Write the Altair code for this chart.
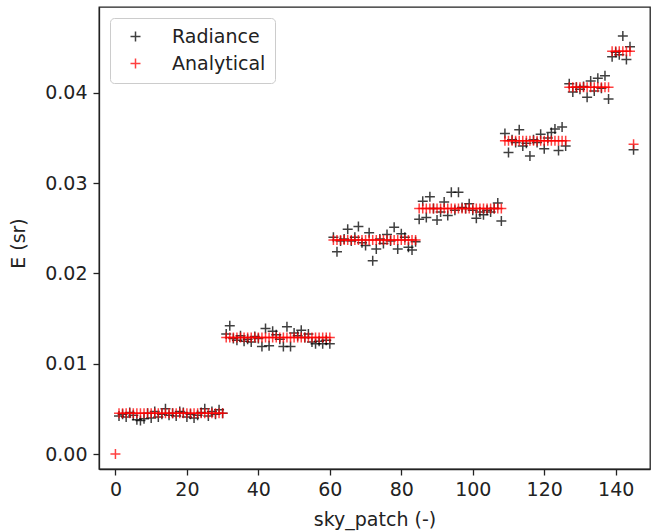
import altair as alt
import pandas as pd

# ---- data ----
patch = list(range(146))

radiance = [
    None,  # patch 0: only the analytical value is drawn
    # band 1 (patches 1-30)
    0.0042, 0.0044, 0.0041, 0.0046, 0.0043, 0.0038, 0.0037, 0.0039, 0.0045, 0.0040,
    0.0047, 0.0041, 0.0044, 0.0050, 0.0043, 0.0045, 0.0042, 0.0047, 0.0046, 0.0041,
    0.0044, 0.0040, 0.0043, 0.0046, 0.0050, 0.0042, 0.0047, 0.0044, 0.0049, 0.0045,
    # band 2 (31-60)
    0.0133, 0.0142, 0.0128, 0.0126, 0.0131, 0.0125, 0.0127, 0.0124, 0.0130, 0.0128,
    0.0119, 0.0139, 0.0120, 0.0136, 0.0132, 0.0127, 0.0119, 0.0141, 0.0119, 0.0134,
    0.0131, 0.0137, 0.0129, 0.0133, 0.0124, 0.0122, 0.0125, 0.0122, 0.0126, 0.0122,
    # band 3 (61-84)
    0.0240, 0.0224, 0.0236, 0.0238, 0.0249, 0.0236, 0.0240, 0.0252, 0.0234, 0.0231, 0.0245, 0.0214,
    0.0227, 0.0238, 0.0233, 0.0243, 0.0236, 0.0251, 0.0227, 0.0244, 0.0240, 0.0229, 0.0226, 0.0235,
    # band 4 (85-108)
    0.0260, 0.0280, 0.0262, 0.0285, 0.0272, 0.0259, 0.0268, 0.0279, 0.0264, 0.0290, 0.0270, 0.0290,
    0.0273, 0.0272, 0.0277, 0.0270, 0.0261, 0.0268, 0.0265, 0.0270, 0.0268, 0.0272, 0.0278, 0.0258,
    # band 5 (109-126)
    0.0355, 0.0334, 0.0348, 0.0345, 0.0359, 0.0341, 0.0344, 0.0330, 0.0348,
    0.0345, 0.0354, 0.0338, 0.0350, 0.0356, 0.0360, 0.0336, 0.0362, 0.0341,
    # band 6 (127-138)
    0.0410, 0.0401, 0.0406, 0.0404, 0.0407, 0.0395, 0.0413, 0.0402, 0.0416, 0.0405, 0.0419, 0.0393,
    # band 7 (139-144)
    0.0440, 0.0445, 0.0442, 0.0463, 0.0437, 0.0451,
    # zenith (145)
    0.0337,
]

analytical = (
    [0.0]
    + [0.0045] * 30
    + [0.0129] * 30
    + [0.0237] * 24
    + [0.0272] * 24
    + [0.0347] * 18
    + [0.0406] * 12
    + [0.0446] * 6
    + [0.0343]
)

series_names = ["Radiance", "Analytical"]
series_colors = ["black", "red"]
x_ticks = [0, 20, 40, 60, 80, 100, 120, 140]
y_ticks = [0.0, 0.01, 0.02, 0.03, 0.04]

df = pd.concat(
    [
        pd.DataFrame({"patch": patch, "E": radiance, "series": series_names[0]}),
        pd.DataFrame({"patch": patch, "E": analytical, "series": series_names[1]}),
    ],
    ignore_index=True,
).dropna()

CROSS = "M-1,0L1,0M0,-1L0,1"
FONT = "DejaVu Sans"
INK = "#222222"

chart = (
    alt.Chart(df)
    .mark_point(shape=CROSS, size=100, filled=False, strokeWidth=1.5, opacity=0.75)
    .encode(
        x=alt.X(
            "patch:Q",
            scale=alt.Scale(domain=[-4.6, 149.6], nice=False, zero=False),
            axis=alt.Axis(
                values=x_ticks,
                title="sky_patch (-)",
                grid=False,
                labelPadding=5,
                titleY=56,
                titleBaseline="alphabetic",
            ),
        ),
        y=alt.Y(
            "E:Q",
            scale=alt.Scale(domain=[-0.00166, 0.0495], nice=False, zero=False),
            axis=alt.Axis(
                values=y_ticks,
                format=".2f",
                title="E (sr)",
                grid=False,
                labelPadding=6,
                titleX=-81,
                titleY=236,
                titleAngle=270,
                titleAlign="center",
                titleBaseline="middle",
            ),
        ),
        color=alt.Color(
            "series:N",
            scale=alt.Scale(domain=series_names, range=series_colors),
            legend=alt.Legend(
                title=None,
                orient="none",
                legendX=11,
                legendY=11,
            ),
        ),
    )
    .properties(
        width=551,
        height=462,
        padding={"left": 99, "top": 7, "right": 1, "bottom": 63},
        autosize=alt.AutoSizeParams(type="none"),
    )
    .configure_view(stroke=INK, strokeWidth=1.3)
    .configure_axis(
        domainColor=INK,
        domainWidth=1.3,
        tickColor=INK,
        tickWidth=1.3,
        tickSize=6,
        labelFont=FONT,
        labelFontSize=19,
        labelColor=INK,
        titleFont=FONT,
        titleFontSize=19,
        titleFontWeight="normal",
        titleColor=INK,
    )
    .configure_legend(
        labelFont=FONT,
        labelFontSize=19,
        labelColor=INK,
        symbolType=CROSS,
        symbolSize=100,
        symbolStrokeWidth=1.5,
        symbolOpacity=0.75,
        padding=9,
        rowPadding=7,
        symbolOffset=7,
        labelOffset=27,
        strokeColor="#cccccc",
        fillColor="white",
        cornerRadius=4,
    )
)

chart.save("out.html", embed_options={"renderer": "svg", "actions": False})
